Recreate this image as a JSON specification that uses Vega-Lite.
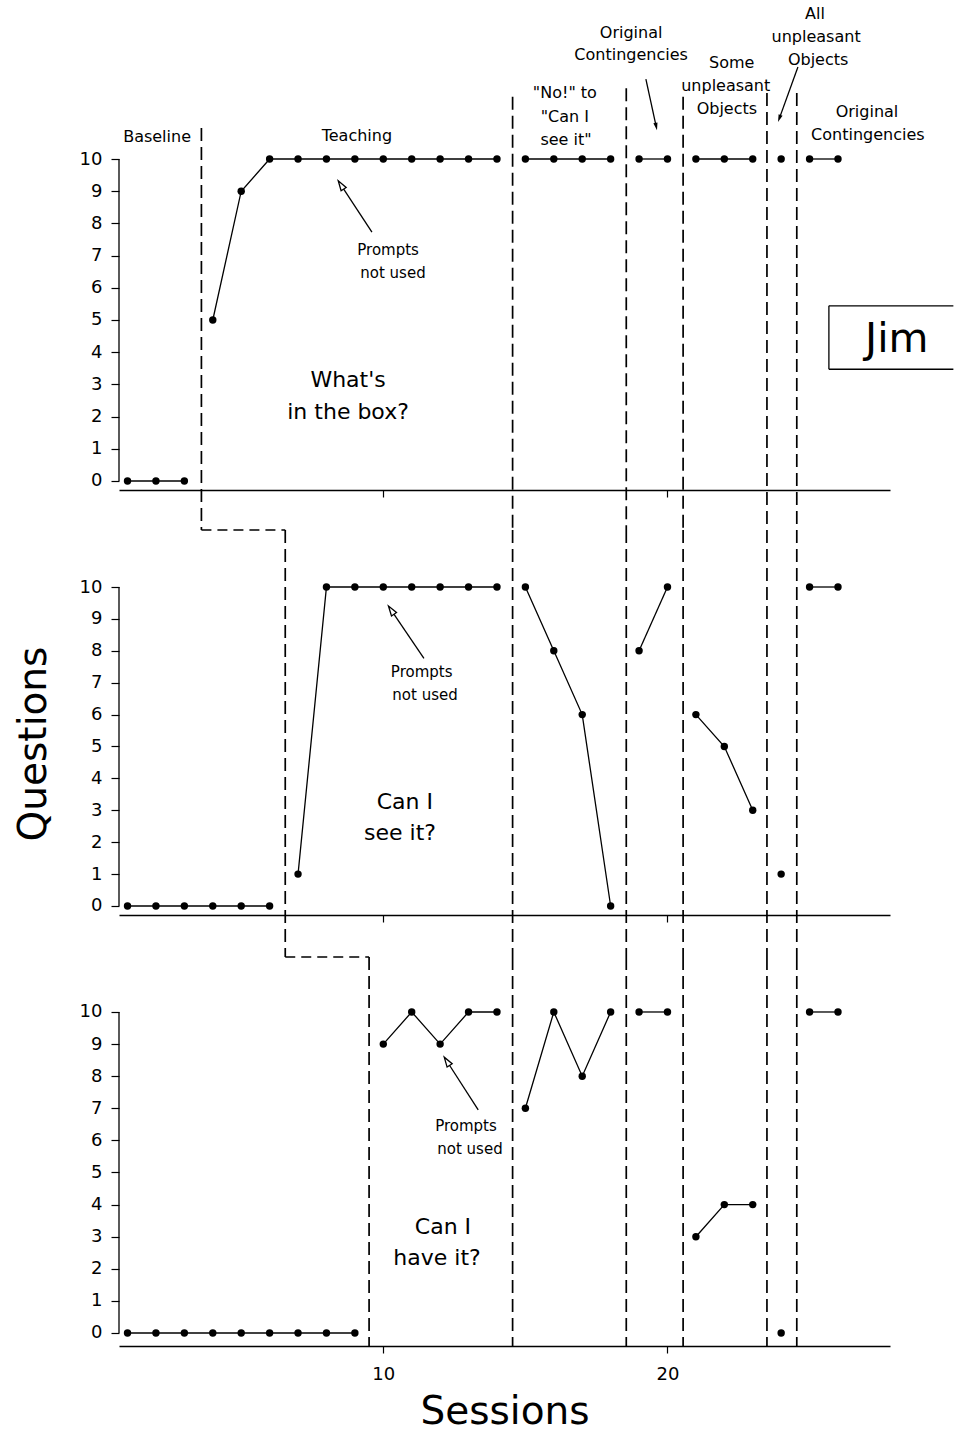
{
"$schema": "https://vega.github.io/schema/vega-lite/v6.json",
"background": "white",
"padding": {"left": 14, "top": 0, "right": 0, "bottom": 0},
"config": {
 "font": "DejaVu Sans",
 "view": {"stroke": null},
 "axis": {"labelFont": "DejaVu Sans", "titleFont": "DejaVu Sans", "labelColor": "black", "titleColor": "black", "tickColor": "black", "domainColor": "black", "labelFontSize": 18, "titleFontSize": 39, "titleFontWeight": "normal", "grid": false, "tickWidth": 1.2, "domainWidth": 1.5, "labelOverlap": false},
 "text": {"font": "DejaVu Sans", "color": "black"}
},
"datasets": {
 "obs": [
  {"panel":"box","phase":"A","session":1,"value":0},{"panel":"box","phase":"A","session":2,"value":0},{"panel":"box","phase":"A","session":3,"value":0},
  {"panel":"box","phase":"B","session":4,"value":5},{"panel":"box","phase":"B","session":5,"value":9},{"panel":"box","phase":"B","session":6,"value":10},{"panel":"box","phase":"B","session":7,"value":10},{"panel":"box","phase":"B","session":8,"value":10},{"panel":"box","phase":"B","session":9,"value":10},{"panel":"box","phase":"B","session":10,"value":10},{"panel":"box","phase":"B","session":11,"value":10},{"panel":"box","phase":"B","session":12,"value":10},{"panel":"box","phase":"B","session":13,"value":10},{"panel":"box","phase":"B","session":14,"value":10},
  {"panel":"box","phase":"C","session":15,"value":10},{"panel":"box","phase":"C","session":16,"value":10},{"panel":"box","phase":"C","session":17,"value":10},{"panel":"box","phase":"C","session":18,"value":10},
  {"panel":"box","phase":"D","session":19,"value":10},{"panel":"box","phase":"D","session":20,"value":10},
  {"panel":"box","phase":"E","session":21,"value":10},{"panel":"box","phase":"E","session":22,"value":10},{"panel":"box","phase":"E","session":23,"value":10},
  {"panel":"box","phase":"F","session":24,"value":10},
  {"panel":"box","phase":"G","session":25,"value":10},{"panel":"box","phase":"G","session":26,"value":10},
  {"panel":"see","phase":"A","session":1,"value":0},{"panel":"see","phase":"A","session":2,"value":0},{"panel":"see","phase":"A","session":3,"value":0},{"panel":"see","phase":"A","session":4,"value":0},{"panel":"see","phase":"A","session":5,"value":0},{"panel":"see","phase":"A","session":6,"value":0},
  {"panel":"see","phase":"B","session":7,"value":1},{"panel":"see","phase":"B","session":8,"value":10},{"panel":"see","phase":"B","session":9,"value":10},{"panel":"see","phase":"B","session":10,"value":10},{"panel":"see","phase":"B","session":11,"value":10},{"panel":"see","phase":"B","session":12,"value":10},{"panel":"see","phase":"B","session":13,"value":10},{"panel":"see","phase":"B","session":14,"value":10},
  {"panel":"see","phase":"C","session":15,"value":10},{"panel":"see","phase":"C","session":16,"value":8},{"panel":"see","phase":"C","session":17,"value":6},{"panel":"see","phase":"C","session":18,"value":0},
  {"panel":"see","phase":"D","session":19,"value":8},{"panel":"see","phase":"D","session":20,"value":10},
  {"panel":"see","phase":"E","session":21,"value":6},{"panel":"see","phase":"E","session":22,"value":5},{"panel":"see","phase":"E","session":23,"value":3},
  {"panel":"see","phase":"F","session":24,"value":1},
  {"panel":"see","phase":"G","session":25,"value":10},{"panel":"see","phase":"G","session":26,"value":10},
  {"panel":"have","phase":"A","session":1,"value":0},{"panel":"have","phase":"A","session":2,"value":0},{"panel":"have","phase":"A","session":3,"value":0},{"panel":"have","phase":"A","session":4,"value":0},{"panel":"have","phase":"A","session":5,"value":0},{"panel":"have","phase":"A","session":6,"value":0},{"panel":"have","phase":"A","session":7,"value":0},{"panel":"have","phase":"A","session":8,"value":0},{"panel":"have","phase":"A","session":9,"value":0},
  {"panel":"have","phase":"B","session":10,"value":9},{"panel":"have","phase":"B","session":11,"value":10},{"panel":"have","phase":"B","session":12,"value":9},{"panel":"have","phase":"B","session":13,"value":10},{"panel":"have","phase":"B","session":14,"value":10},
  {"panel":"have","phase":"C","session":15,"value":7},{"panel":"have","phase":"C","session":16,"value":10},{"panel":"have","phase":"C","session":17,"value":8},{"panel":"have","phase":"C","session":18,"value":10},
  {"panel":"have","phase":"D","session":19,"value":10},{"panel":"have","phase":"D","session":20,"value":10},
  {"panel":"have","phase":"E","session":21,"value":3},{"panel":"have","phase":"E","session":22,"value":4},{"panel":"have","phase":"E","session":23,"value":4},
  {"panel":"have","phase":"F","session":24,"value":0},
  {"panel":"have","phase":"G","session":25,"value":10},{"panel":"have","phase":"G","session":26,"value":10}
 ],
 "phaseLines": [
  {"session":14.55,"top":11.93},{"session":18.55,"top":12.2},{"session":20.55,"top":11.93},{"session":23.5,"top":12.05},{"session":24.55,"top":12.05}
 ],
 "labels": [
  {"panel":"box","kind":"phase","session":2.04,"value":10.68,"text":"Baseline"},
  {"panel":"box","kind":"phase","session":9.07,"value":10.71,"text":"Teaching"},
  {"panel":"box","kind":"phase","session":16.39,"value":12.05,"text":"\"No!\" to"},
  {"panel":"box","kind":"phase","session":16.39,"value":11.3,"text":"\"Can I"},
  {"panel":"box","kind":"phase","session":16.43,"value":10.59,"text":"see it\""},
  {"panel":"box","kind":"phase","session":18.72,"value":13.91,"text":"Original"},
  {"panel":"box","kind":"phase","session":18.72,"value":13.23,"text":"Contingencies"},
  {"panel":"box","kind":"phase","session":22.26,"value":12.98,"text":"Some"},
  {"panel":"box","kind":"phase","session":22.05,"value":12.27,"text":"unpleasant"},
  {"panel":"box","kind":"phase","session":22.09,"value":11.55,"text":"Objects"},
  {"panel":"box","kind":"phase","session":25.19,"value":14.5,"text":"All"},
  {"panel":"box","kind":"phase","session":25.23,"value":13.79,"text":"unpleasant"},
  {"panel":"box","kind":"phase","session":25.3,"value":13.07,"text":"Objects"},
  {"panel":"box","kind":"phase","session":27.02,"value":11.46,"text":"Original"},
  {"panel":"box","kind":"phase","session":27.05,"value":10.75,"text":"Contingencies"},
  {"panel":"box","kind":"prompt","session":10.17,"value":7.17,"text":"Prompts"},
  {"panel":"box","kind":"prompt","session":10.34,"value":6.46,"text":"not used"},
  {"panel":"see","kind":"prompt","session":11.35,"value":7.34,"text":"Prompts"},
  {"panel":"see","kind":"prompt","session":11.47,"value":6.61,"text":"not used"},
  {"panel":"have","kind":"prompt","session":12.91,"value":6.45,"text":"Prompts"},
  {"panel":"have","kind":"prompt","session":13.05,"value":5.73,"text":"not used"},
  {"panel":"box","kind":"big","session":8.76,"value":3.14,"text":"What's"},
  {"panel":"box","kind":"big","session":8.76,"value":2.14,"text":"in the box?"},
  {"panel":"see","kind":"big","session":10.76,"value":3.26,"text":"Can I"},
  {"panel":"see","kind":"big","session":10.59,"value":2.29,"text":"see it?"},
  {"panel":"have","kind":"big","session":12.1,"value":3.3,"text":"Can I"},
  {"panel":"have","kind":"big","session":11.89,"value":2.34,"text":"have it?"}
 ],
 "promptArrows": [
  {"panel":"box","session":9.6,"value":7.73,"headSession":8.52,"headValue":9.18},
  {"panel":"see","session":11.43,"value":7.76,"headSession":10.29,"headValue":9.26},
  {"panel":"have","session":13.34,"value":6.95,"headSession":12.25,"headValue":8.45}
 ]
},
"bounds": "flush",
"spacing": 0,
"resolve": {"scale": {"x": "independent", "y": "independent"}},
"vconcat": [
 {
  "width": 771, "height": 530,
  "layer": [
   {"data": {"name": "obs"}, "transform": [{"filter": "datum.panel === 'box'"}],
    "mark": {"type": "line", "color": "black", "strokeWidth": 1.3},
    "encoding": {
     "x": {"field": "session", "type": "quantitative", "scale": {"domain": [0.7, 27.83], "nice": false, "zero": false}, "axis": {"values": [10, 20], "labels": false, "tickSize": 7, "offset": -40, "title": null}},
     "y": {"field": "value", "type": "quantitative", "scale": {"domain": [-1.522, 14.938], "nice": false, "zero": false}, "axis": {"values": [0,1,2,3,4,5,6,7,8,9,10], "tickCount": 11, "domain": false, "tickSize": 8, "labelPadding": 9, "labelOverlap": false, "title": null}},
     "detail": {"field": "phase"}, "order": {"field": "session"}}},
   {"data": {"name": "obs"}, "transform": [{"filter": "datum.panel === 'box'"}],
    "mark": {"type": "point", "filled": true, "color": "black", "size": 55, "opacity": 1},
    "encoding": {
     "x": {"field": "session", "type": "quantitative"},
     "y": {"field": "value", "type": "quantitative"}}},
   {"data": {"values": [{"axis": "y"}]},
    "mark": {"type": "rule", "color": "black", "strokeWidth": 1.3},
    "encoding": {"x": {"datum": 0.7}, "y": {"datum": 0}, "y2": {"datum": 10}}},
   {"data": {"name": "phaseLines"},
    "mark": {"type": "rule", "color": "black", "strokeWidth": 1.7, "strokeDash": [13, 6]},
    "encoding": {"x": {"field": "session", "type": "quantitative"}, "y": {"field": "top", "type": "quantitative"}, "y2": {"datum": -1.522}}},
   {"data": {"values": [{"session": 3.6, "top": 10.96, "next": 6.55}]},
    "mark": {"type": "rule", "color": "black", "strokeWidth": 1.7, "strokeDash": [13, 6]},
    "encoding": {"x": {"field": "session", "type": "quantitative"}, "y": {"field": "top", "type": "quantitative"}, "y2": {"datum": -1.522}}},
   {"data": {"values": [{"session": 3.6, "top": 10.96, "next": 6.55}]},
    "mark": {"type": "rule", "color": "black", "strokeWidth": 1.6, "strokeDash": [10, 6]},
    "encoding": {"x": {"field": "session", "type": "quantitative"}, "x2": {"field": "next"}, "y": {"datum": -1.522}}},
   {"data": {"name": "labels"}, "transform": [{"filter": "datum.panel === 'box' && datum.kind === 'phase'"}],
    "mark": {"type": "text", "fontSize": 16, "align": "center", "baseline": "middle"},
    "encoding": {"x": {"field": "session", "type": "quantitative"}, "y": {"field": "value", "type": "quantitative"}, "text": {"field": "text"}}},
   {"data": {"name": "labels"}, "transform": [{"filter": "datum.panel === 'box' && datum.kind === 'prompt'"}],
    "mark": {"type": "text", "fontSize": 15, "align": "center", "baseline": "middle"},
    "encoding": {"x": {"field": "session", "type": "quantitative"}, "y": {"field": "value", "type": "quantitative"}, "text": {"field": "text"}}},
   {"data": {"name": "labels"}, "transform": [{"filter": "datum.panel === 'box' && datum.kind === 'big'"}],
    "mark": {"type": "text", "fontSize": 22, "align": "center", "baseline": "middle"},
    "encoding": {"x": {"field": "session", "type": "quantitative"}, "y": {"field": "value", "type": "quantitative"}, "text": {"field": "text"}}},
   {"data": {"name": "promptArrows"}, "transform": [{"filter": "datum.panel === 'box'"}],
    "mark": {"type": "rule", "color": "black", "strokeWidth": 1.3},
    "encoding": {"x": {"field": "session", "type": "quantitative"}, "y": {"field": "value", "type": "quantitative"}, "x2": {"field": "headSession"}, "y2": {"field": "headValue"}}},
   {"data": {"name": "promptArrows"}, "transform": [{"filter": "datum.panel === 'box'"}],
    "mark": {"type": "point", "shape": "M0,-1L-0.55,0.8L0.55,0.8Z", "size": 121, "angle": 327, "filled": true, "fill": "white", "stroke": "black", "strokeWidth": 1.3, "opacity": 1},
    "encoding": {"x": {"field": "headSession", "type": "quantitative"}, "y": {"field": "headValue", "type": "quantitative"}}},
   {"data": {"values": [{"session": 19.24, "value": 12.48, "headSession": 19.6, "headValue": 11.02}]},
    "layer": [
     {"mark": {"type": "rule", "color": "black", "strokeWidth": 1.3},
      "encoding": {"x": {"field": "session", "type": "quantitative"}, "y": {"field": "value", "type": "quantitative"}, "x2": {"field": "headSession"}, "y2": {"field": "headValue"}}},
     {"mark": {"type": "point", "shape": "M0,-1L-0.5,0.8L0.5,0.8Z", "size": 70, "angle": 168, "filled": true, "color": "black", "opacity": 1},
      "encoding": {"x": {"field": "headSession", "type": "quantitative"}, "y": {"field": "headValue", "type": "quantitative"}}}
    ]},
   {"data": {"values": [{"session": 24.59, "value": 12.86, "headSession": 23.94, "headValue": 11.27}]},
    "layer": [
     {"mark": {"type": "rule", "color": "black", "strokeWidth": 1.3},
      "encoding": {"x": {"field": "session", "type": "quantitative"}, "y": {"field": "value", "type": "quantitative"}, "x2": {"field": "headSession"}, "y2": {"field": "headValue"}}},
     {"mark": {"type": "point", "shape": "M0,-1L-0.5,0.8L0.5,0.8Z", "size": 70, "angle": 200, "filled": true, "color": "black", "opacity": 1},
      "encoding": {"x": {"field": "headSession", "type": "quantitative"}, "y": {"field": "headValue", "type": "quantitative"}}}
    ]},
   {"data": {"values": [{"left": 25.68, "right": 30.06, "top": 5.44, "bottom": 3.47}]},
    "layer": [
     {"mark": {"type": "rule", "color": "black", "strokeWidth": 1.3},
      "encoding": {"x": {"field": "left", "type": "quantitative"}, "x2": {"field": "right"}, "y": {"field": "top", "type": "quantitative"}}},
     {"mark": {"type": "rule", "color": "black", "strokeWidth": 1.3},
      "encoding": {"x": {"field": "left", "type": "quantitative"}, "x2": {"field": "right"}, "y": {"field": "bottom", "type": "quantitative"}}},
     {"mark": {"type": "rule", "color": "black", "strokeWidth": 1.3},
      "encoding": {"x": {"field": "left", "type": "quantitative"}, "y": {"field": "top", "type": "quantitative"}, "y2": {"field": "bottom"}}}
    ]},
   {"data": {"values": [{"session": 28.07, "value": 4.02, "name": "Jim"}]},
    "mark": {"type": "text", "fontSize": 41, "align": "center", "baseline": "alphabetic"},
    "encoding": {"x": {"field": "session", "type": "quantitative"}, "y": {"field": "value", "type": "quantitative"}, "text": {"field": "name"}}}
  ]
 },
 {
  "width": 771, "height": 427,
  "layer": [
   {"data": {"name": "obs"}, "transform": [{"filter": "datum.panel === 'see'"}],
    "mark": {"type": "line", "color": "black", "strokeWidth": 1.3},
    "encoding": {
     "x": {"field": "session", "type": "quantitative", "scale": {"domain": [0.7, 27.83], "nice": false, "zero": false}, "axis": {"values": [10, 20], "labels": false, "tickSize": 7, "offset": -42, "title": null}},
     "y": {"field": "value", "type": "quantitative", "scale": {"domain": [-1.599, 11.787], "nice": false, "zero": false}, "axis": {"values": [0,1,2,3,4,5,6,7,8,9,10], "tickCount": 11, "domain": false, "tickSize": 8, "labelPadding": 9, "labelOverlap": false, "title": "Questions", "titlePadding": 26}},
     "detail": {"field": "phase"}, "order": {"field": "session"}}},
   {"data": {"name": "obs"}, "transform": [{"filter": "datum.panel === 'see'"}],
    "mark": {"type": "point", "filled": true, "color": "black", "size": 55, "opacity": 1},
    "encoding": {
     "x": {"field": "session", "type": "quantitative"},
     "y": {"field": "value", "type": "quantitative"}}},
   {"data": {"values": [{"axis": "y"}]},
    "mark": {"type": "rule", "color": "black", "strokeWidth": 1.3},
    "encoding": {"x": {"datum": 0.7}, "y": {"datum": 0}, "y2": {"datum": 10}}},
   {"data": {"name": "phaseLines"},
    "mark": {"type": "rule", "color": "black", "strokeWidth": 1.7, "strokeDash": [13, 6]},
    "encoding": {"x": {"field": "session", "type": "quantitative"}}},
   {"data": {"values": [{"session": 6.55, "next": 9.5}]},
    "mark": {"type": "rule", "color": "black", "strokeWidth": 1.7, "strokeDash": [13, 6]},
    "encoding": {"x": {"field": "session", "type": "quantitative"}}},
   {"data": {"values": [{"session": 6.55, "next": 9.5}]},
    "mark": {"type": "rule", "color": "black", "strokeWidth": 1.6, "strokeDash": [10, 6]},
    "encoding": {"x": {"field": "session", "type": "quantitative"}, "x2": {"field": "next"}, "y": {"datum": -1.599}}},
   {"data": {"name": "labels"}, "transform": [{"filter": "datum.panel === 'see' && datum.kind === 'prompt'"}],
    "mark": {"type": "text", "fontSize": 15, "align": "center", "baseline": "middle"},
    "encoding": {"x": {"field": "session", "type": "quantitative"}, "y": {"field": "value", "type": "quantitative"}, "text": {"field": "text"}}},
   {"data": {"name": "labels"}, "transform": [{"filter": "datum.panel === 'see' && datum.kind === 'big'"}],
    "mark": {"type": "text", "fontSize": 22, "align": "center", "baseline": "middle"},
    "encoding": {"x": {"field": "session", "type": "quantitative"}, "y": {"field": "value", "type": "quantitative"}, "text": {"field": "text"}}},
   {"data": {"name": "promptArrows"}, "transform": [{"filter": "datum.panel === 'see'"}],
    "mark": {"type": "rule", "color": "black", "strokeWidth": 1.3},
    "encoding": {"x": {"field": "session", "type": "quantitative"}, "y": {"field": "value", "type": "quantitative"}, "x2": {"field": "headSession"}, "y2": {"field": "headValue"}}},
   {"data": {"name": "promptArrows"}, "transform": [{"filter": "datum.panel === 'see'"}],
    "mark": {"type": "point", "shape": "M0,-1L-0.55,0.8L0.55,0.8Z", "size": 121, "angle": 326, "filled": true, "fill": "white", "stroke": "black", "strokeWidth": 1.3, "opacity": 1},
    "encoding": {"x": {"field": "headSession", "type": "quantitative"}, "y": {"field": "headValue", "type": "quantitative"}}}
  ]
 },
 {
  "width": 771, "height": 389,
  "layer": [
   {"data": {"name": "obs"}, "transform": [{"filter": "datum.panel === 'have'"}],
    "mark": {"type": "line", "color": "black", "strokeWidth": 1.3},
    "encoding": {
     "x": {"field": "session", "type": "quantitative", "scale": {"domain": [0.7, 27.83], "nice": false, "zero": false}, "axis": {"values": [10, 20], "tickSize": 7, "labelPadding": 12, "title": "Sessions", "titlePadding": 9}},
     "y": {"field": "value", "type": "quantitative", "scale": {"domain": [-0.405, 11.713], "nice": false, "zero": false}, "axis": {"values": [0,1,2,3,4,5,6,7,8,9,10], "tickCount": 11, "domain": false, "tickSize": 8, "labelPadding": 9, "labelOverlap": false, "title": null}},
     "detail": {"field": "phase"}, "order": {"field": "session"}}},
   {"data": {"name": "obs"}, "transform": [{"filter": "datum.panel === 'have'"}],
    "mark": {"type": "point", "filled": true, "color": "black", "size": 55, "opacity": 1},
    "encoding": {
     "x": {"field": "session", "type": "quantitative"},
     "y": {"field": "value", "type": "quantitative"}}},
   {"data": {"values": [{"axis": "y"}]},
    "mark": {"type": "rule", "color": "black", "strokeWidth": 1.3},
    "encoding": {"x": {"datum": 0.7}, "y": {"datum": 0}, "y2": {"datum": 10}}},
   {"data": {"name": "phaseLines"},
    "mark": {"type": "rule", "color": "black", "strokeWidth": 1.7, "strokeDash": [13, 6]},
    "encoding": {"x": {"field": "session", "type": "quantitative"}}},
   {"data": {"values": [{"session": 9.5}]},
    "mark": {"type": "rule", "color": "black", "strokeWidth": 1.7, "strokeDash": [13, 6]},
    "encoding": {"x": {"field": "session", "type": "quantitative"}}},
   {"data": {"name": "labels"}, "transform": [{"filter": "datum.panel === 'have' && datum.kind === 'prompt'"}],
    "mark": {"type": "text", "fontSize": 15, "align": "center", "baseline": "middle"},
    "encoding": {"x": {"field": "session", "type": "quantitative"}, "y": {"field": "value", "type": "quantitative"}, "text": {"field": "text"}}},
   {"data": {"name": "labels"}, "transform": [{"filter": "datum.panel === 'have' && datum.kind === 'big'"}],
    "mark": {"type": "text", "fontSize": 22, "align": "center", "baseline": "middle"},
    "encoding": {"x": {"field": "session", "type": "quantitative"}, "y": {"field": "value", "type": "quantitative"}, "text": {"field": "text"}}},
   {"data": {"name": "promptArrows"}, "transform": [{"filter": "datum.panel === 'have'"}],
    "mark": {"type": "rule", "color": "black", "strokeWidth": 1.3},
    "encoding": {"x": {"field": "session", "type": "quantitative"}, "y": {"field": "value", "type": "quantitative"}, "x2": {"field": "headSession"}, "y2": {"field": "headValue"}}},
   {"data": {"name": "promptArrows"}, "transform": [{"filter": "datum.panel === 'have'"}],
    "mark": {"type": "point", "shape": "M0,-1L-0.55,0.8L0.55,0.8Z", "size": 121, "angle": 327, "filled": true, "fill": "white", "stroke": "black", "strokeWidth": 1.3, "opacity": 1},
    "encoding": {"x": {"field": "headSession", "type": "quantitative"}, "y": {"field": "headValue", "type": "quantitative"}}}
  ]
 }
]
}
